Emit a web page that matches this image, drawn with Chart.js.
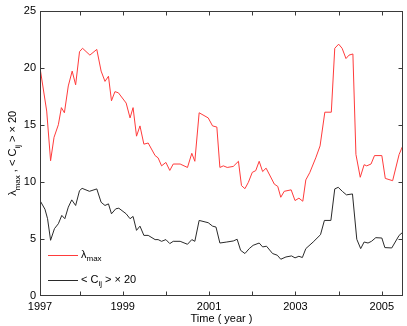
<!DOCTYPE html>
<html>
<head>
<meta charset="utf-8">
<script src="https://cdn.jsdelivr.net/npm/chart.js@4/dist/chart.umd.min.js"></script>
<style>
  html, body { margin: 0; padding: 0; background: #fff; }
  #wrap { width: 407px; height: 326px; }
</style>
</head>
<body>
<div id="wrap"><canvas id="chart" width="407" height="326"></canvas></div>
<script>
// Data (time in decimal years)
const lamTime = [1997.085, 1997.24, 1997.33, 1997.41, 1997.51, 1997.58, 1997.65, 1997.74, 1997.83, 1997.91,
  1998.00, 1998.07, 1998.24, 1998.40, 1998.50, 1998.59, 1998.67, 1998.74, 1998.82, 1998.90,
  1999.08, 1999.17, 1999.24, 1999.32, 1999.40, 1999.49, 1999.59, 1999.75, 1999.82, 1999.90,
  2000.00, 2000.09, 2000.17, 2000.33, 2000.50, 2000.60, 2000.67, 2000.77, 2000.98, 2001.08,
  2001.18, 2001.25, 2001.33, 2001.42, 2001.56, 2001.68, 2001.75, 2001.83, 2001.91, 2002.00,
  2002.08, 2002.16, 2002.24, 2002.32, 2002.45, 2002.51, 2002.59, 2002.66, 2002.74, 2002.90,
  2002.99, 2003.08, 2003.17, 2003.24, 2003.33, 2003.47, 2003.57, 2003.68, 2003.83, 2003.91,
  2004.00, 2004.08, 2004.17, 2004.24, 2004.33, 2004.40, 2004.50, 2004.59, 2004.65, 2004.75,
  2004.83, 2005.00, 2005.08, 2005.25, 2005.40, 2005.49]
const lamValues = [20.0, 16.2, 11.85, 13.9, 15.0, 16.5, 16.05, 18.4, 19.7, 18.5,
  21.4, 21.7, 21.1, 21.6, 19.7, 18.8, 19.25, 17.1, 17.9, 17.8,
  16.9, 15.6, 16.5, 14.0, 14.9, 13.3, 13.4, 12.3, 12.1, 11.4,
  11.7, 11.0, 11.56, 11.56, 11.26, 12.5, 11.8, 16.05, 15.6, 14.9,
  14.8, 11.26, 11.4, 11.26, 11.35, 11.8, 9.67, 9.4, 9.96, 10.83,
  10.98, 11.8, 10.9, 11.2, 10.25, 9.8, 9.6, 8.65, 9.17, 9.3,
  8.36, 8.57, 8.3, 10.17, 10.8, 12.1, 13.15, 16.1, 16.1, 21.7,
  22.06, 21.7, 20.8, 21.1, 21.2, 12.4, 10.4, 11.5, 11.4, 11.56,
  12.3, 12.3, 10.3, 10.1, 12.4, 13.2]

const cTime = [1997.085, 1997.20, 1997.26, 1997.33, 1997.42, 1997.51, 1997.59, 1997.66, 1997.74, 1997.82,
  1997.91, 1998.00, 1998.06, 1998.23, 1998.40, 1998.50, 1998.59, 1998.67, 1998.74, 1998.84,
  1998.91, 1999.08, 1999.17, 1999.24, 1999.32, 1999.40, 1999.49, 1999.59, 1999.75, 1999.82,
  1999.90, 2000.00, 2000.09, 2000.17, 2000.33, 2000.50, 2000.60, 2000.67, 2000.77, 2000.98,
  2001.08, 2001.16, 2001.25, 2001.41, 2001.56, 2001.65, 2001.73, 2001.83, 2001.93, 2002.02,
  2002.16, 2002.24, 2002.33, 2002.47, 2002.58, 2002.66, 2002.78, 2002.91, 2002.99, 2003.08,
  2003.16, 2003.24, 2003.41, 2003.58, 2003.67, 2003.82, 2003.91, 2003.99, 2004.09, 2004.18,
  2004.32, 2004.42, 2004.51, 2004.59, 2004.68, 2004.76, 2004.86, 2005.00, 2005.07, 2005.23,
  2005.40, 2005.49]
const cValues = [8.36, 7.6, 6.77, 4.88, 5.9, 6.33, 7.06, 6.77, 7.78, 8.42,
  7.93, 9.23, 9.43, 9.17, 9.38, 8.21, 7.93, 8.07, 7.2, 7.64,
  7.69, 7.2, 6.77, 6.97, 5.75, 6.12, 5.31, 5.31, 4.94, 4.94,
  4.79, 4.94, 4.59, 4.79, 4.79, 4.53, 4.94, 4.79, 6.62, 6.42,
  6.12, 6.04, 4.64, 4.73, 4.82, 4.97, 4.0, 3.72, 4.15, 4.44,
  4.64, 4.3, 4.36, 3.72, 3.57, 3.22, 3.42, 3.51, 3.34, 3.48,
  3.37, 4.15, 4.73, 5.37, 6.62, 6.62, 9.38, 9.52, 9.15, 8.86,
  8.94, 4.97, 4.15, 4.73, 4.64, 4.79, 5.11, 5.08, 4.24, 4.21,
  5.31, 5.6]

// axes
const xMin = 1997.085, xMax = 2005.49
const xTickValues = [1997.085, 1998, 1999, 2000, 2001, 2002, 2003, 2004, 2005]
const xTickLabels = ['1997', '', '1999', '', '2001', '', '2003', '', '2005']
const yTickValues = [0, 5, 10, 15, 20, 25]
const xTitle = 'Time ( year )'

// rich text pieces: [text, isSubscript]
const yTitleParts = [['λ', false], ['max', true], [' , < C', false], ['ij', true], [' > × 20', false]]
const legendParts = [
  [['λ', false], ['max', true]],
  [['< C', false], ['ij', true], [' > × 20', false]]
]

const FONT = '"Liberation Sans", Arial, Helvetica, sans-serif'
const mainFont = '11px ' + FONT
const subFont = '8px ' + FONT

function drawRich(ctx, parts, x, y, align) {
  let total = 0
  parts.forEach(p => { ctx.font = p[1] ? subFont : mainFont; total += ctx.measureText(p[0]).width })
  let cx = align === 'center' ? x - total / 2 : x
  ctx.textAlign = 'left'
  ctx.textBaseline = 'alphabetic'
  parts.forEach(p => {
    ctx.font = p[1] ? subFont : mainFont
    ctx.fillText(p[0], cx, p[1] ? y + 3.5 : y)
    cx += ctx.measureText(p[0]).width
  })
}

// frame, inward ticks, y title, legend
const decor = {
  id: 'decor',
  afterDatasetsDraw(chart) {
    const ctx = chart.ctx, a = chart.chartArea
    const xs = chart.scales.x, ys = chart.scales.y
    const L = Math.round(a.left) + 0.5, R = Math.round(a.right) - 0.5
    const T = Math.round(a.top) + 0.5, B = Math.round(a.bottom) - 0.5
    ctx.save()
    ctx.strokeStyle = '#3a3a3a'
    ctx.lineWidth = 1
    ctx.strokeRect(L, T, R - L, B - T)
    ctx.beginPath()
    xTickValues.slice(1).forEach(v => {
      const px = Math.round(xs.getPixelForValue(v)) + 0.5
      ctx.moveTo(px, B); ctx.lineTo(px, B - 4)
      ctx.moveTo(px, T); ctx.lineTo(px, T + 4)
    })
    yTickValues.slice(1, -1).forEach(v => {
      const py = Math.round(ys.getPixelForValue(v)) + 0.5
      ctx.moveTo(L, py); ctx.lineTo(L + 4, py)
      ctx.moveTo(R, py); ctx.lineTo(R - 4, py)
    })
    ctx.stroke()

    // y axis title
    ctx.fillStyle = '#000'
    ctx.save()
    ctx.translate(16, (a.top + a.bottom) / 2)
    ctx.rotate(-Math.PI / 2)
    drawRich(ctx, yTitleParts, 0, 0, 'center')
    ctx.restore()

    // legend
    const lx = a.left + 8, ly = a.bottom - 41
    chart.data.datasets.forEach((ds, i) => {
      const y = Math.round(ly + i * 25) + 0.5
      ctx.strokeStyle = ds.borderColor
      ctx.beginPath(); ctx.moveTo(lx, y); ctx.lineTo(lx + 30, y); ctx.stroke()
      ctx.fillStyle = '#000'
      drawRich(ctx, legendParts[i], lx + 33, y + 2, 'left')
    })
    ctx.restore()
  }
}

new Chart(document.getElementById('chart'), {
  type: 'line',
  data: {
    datasets: [
      { label: 'lambda max', data: lamTime.map((t, i) => ({ x: t, y: lamValues[i] })),
        borderColor: '#ff3b3b', borderWidth: 1, pointRadius: 0, tension: 0, fill: false },
      { label: 'Cij x 20', data: cTime.map((t, i) => ({ x: t, y: cValues[i] })),
        borderColor: '#2a2a2a', borderWidth: 1, pointRadius: 0, tension: 0, fill: false }
    ]
  },
  options: {
    responsive: false,
    animation: false,
    devicePixelRatio: 1,
    layout: { padding: { top: 9, right: 4, left: 0, bottom: 0 } },
    plugins: { legend: { display: false }, tooltip: { enabled: false } },
    scales: {
      x: {
        type: 'linear', min: xMin, max: xMax,
        grid: { display: false, drawTicks: false },
        border: { display: false },
        afterBuildTicks: s => { s.ticks = xTickValues.map(v => ({ value: v })) },
        afterFit: s => { s.height = 30 },
        ticks: {
          autoSkip: false, maxRotation: 0, padding: 4, color: '#000',
          font: { family: FONT, size: 11 },
          callback: (v, i) => xTickLabels[i]
        },
        title: { display: true, text: xTitle, color: '#000', font: { family: FONT, size: 11 }, padding: { top: 0, bottom: 0 } }
      },
      y: {
        min: 0, max: 25,
        grid: { display: false, drawTicks: false },
        border: { display: false },
        afterBuildTicks: s => { s.ticks = yTickValues.map(v => ({ value: v })) },
        afterFit: s => { s.width = 40 },
        ticks: { padding: 4, color: '#000', font: { family: FONT, size: 11 } }
      }
    }
  },
  plugins: [decor]
})
</script>
</body>
</html>
